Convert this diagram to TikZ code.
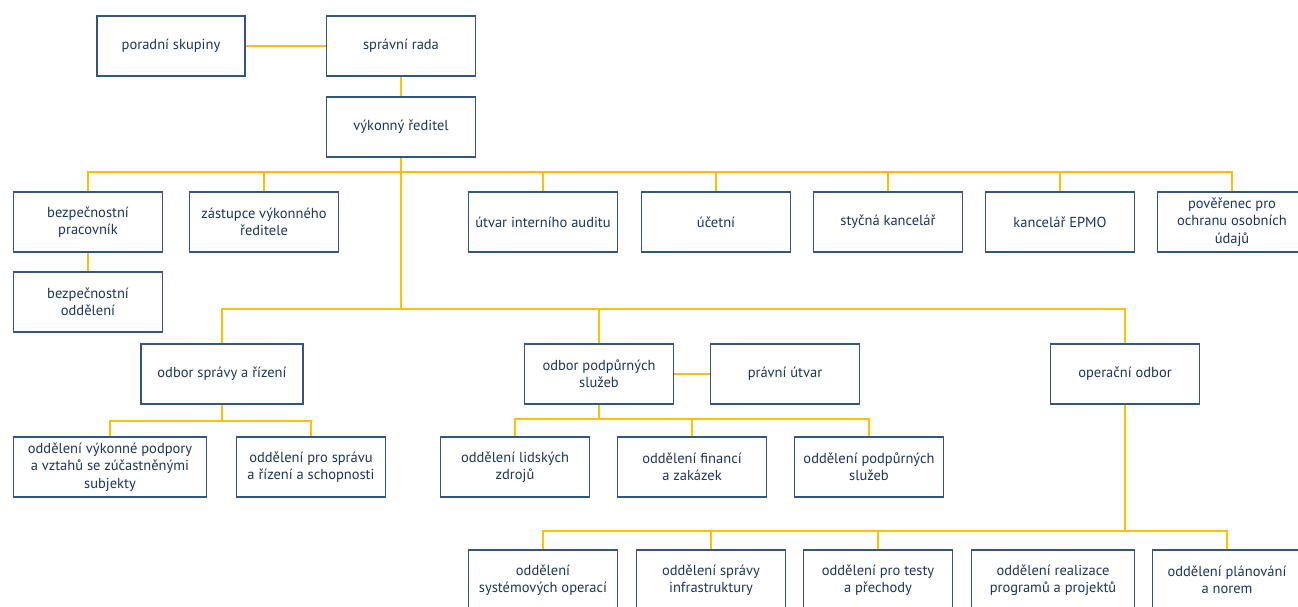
\documentclass[tikz,border=0pt]{standalone}
\usepackage{fontspec}
\setmainfont{PT Sans}
\definecolor{boxline}{HTML}{34557E}
\definecolor{boxtext}{HTML}{1C365C}
\definecolor{conncol}{HTML}{FFC000}
\begin{document}
\begin{tikzpicture}[x=1pt,y=-1pt,
  box/.style={draw=boxline, line width=1.2pt, fill=white, text=boxtext,
    minimum width=149pt, minimum height=60pt, align=center, inner sep=2pt,
    font=\fontsize{14.5}{17.5}\selectfont},
  conn/.style={draw=conncol, line width=1.5pt}]
\path[use as bounding box, clip] (0,0) rectangle (1298,607);
\fill[white] (0,0) rectangle (1298,607);

\coordinate (b1) at (401,172);
\coordinate (b2) at (401,309);
\coordinate (b3) at (222,421);
\coordinate (b4) at (599,419);
\coordinate (b5) at (1125,531);

% top
\node[box, minimum width=148pt] (pora) at (171,46) {poradní skupiny};
\node[box] (rada) at (401,46) {správní rada};
\node[box] (vyk) at (401,127) {výkonný ředitel};

% row 1
\node[box] (bezp) at (88,222) {bezpečnostní\\pracovník};
\node[box] (zast) at (264,222) {zástupce výkonného\\ředitele};
\node[box] (audit) at (543,222) {útvar interního auditu};
\node[box] (ucet) at (716,222) {účetní};
\node[box] (styc) at (888,222) {styčná kancelář};
\node[box] (epmo) at (1060,222) {kancelář EPMO};
\node[box] (pover) at (1232,222) {pověřenec pro\\ochranu osobních\\údajů};
\node[box] (bodd) at (88,302) {bezpečnostní\\oddělení};

% row 2
\node[box, minimum width=162pt] (osr) at (222,374) {odbor správy a řízení};
\node[box] (ops) at (599,374) {odbor podpůrných\\služeb};
\node[box] (pravni) at (785,374) {právní útvar};
\node[box] (oper) at (1125,374) {operační odbor};

% row 3
\node[box, minimum width=193pt] (d1) at (110,467) {oddělení výkonné podpory\\a vztahů se zúčastněnými\\subjekty};
\node[box] (d2) at (311,467) {oddělení pro správu\\a řízení a schopnosti};
\node[box] (lz) at (515,467) {oddělení lidských\\zdrojů};
\node[box] (fin) at (692,467) {oddělení financí\\a zakázek};
\node[box] (pod) at (869,467) {oddělení podpůrných\\služeb};

% row 4
\node[box] (so) at (543,580) {oddělení\\systémových operací};
\node[box] (infra) at (711,580) {oddělení správy\\infrastruktury};
\node[box] (testy) at (878,580) {oddělení pro testy\\a přechody};
\node[box, minimum width=163pt] (real) at (1053,580) {oddělení realizace\\programů a projektů};
\node[box] (plan) at (1227,580) {oddělení plánování\\a norem};

% connectors
\draw[conn] (pora.east) -- (rada.west);
\draw[conn] (rada.south) -- (vyk.north);
\draw[conn] (vyk.south) -- (b2);
\foreach \n in {bezp,zast,audit,ucet,styc,epmo,pover}
  \draw[conn] (\n.north) |- (b1);
\draw[conn] (bezp.south) -- (bodd.north);
\foreach \n in {osr,ops,oper}
  \draw[conn] (\n.north) |- (b2);
\draw[conn] (ops.east) -- (pravni.west);
\draw[conn] (osr.south) -- (b3);
\foreach \n in {d1,d2}
  \draw[conn] (\n.north) |- (b3);
\draw[conn] (ops.south) -- (b4);
\foreach \n in {lz,fin,pod}
  \draw[conn] (\n.north) |- (b4);
\draw[conn] (oper.south) -- (b5);
\foreach \n in {so,infra,testy,plan}
  \draw[conn] (\n.north) |- (b5);
\end{tikzpicture}
\end{document}
